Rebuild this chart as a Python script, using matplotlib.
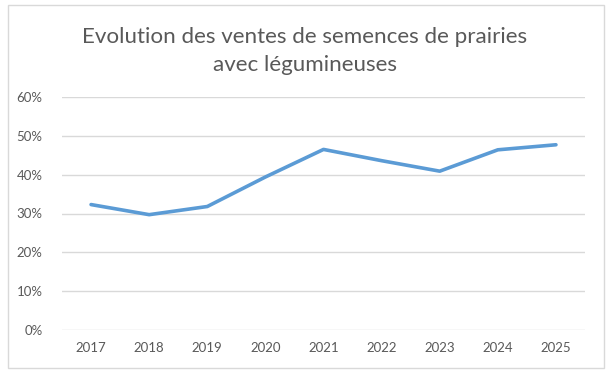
import matplotlib
matplotlib.use("Agg")
from matplotlib import pyplot as plt
from matplotlib.patches import Rectangle

years = ["2017", "2018", "2019", "2020", "2021", "2022", "2023", "2024", "2025"]
share = [32.3, 29.7, 31.8, 39.4, 46.5, 43.6, 40.9, 46.4, 47.7]
yticks = [0, 10, 20, 30, 40, 50, 60]

plt.rcParams['font.family'] = ['Lato', 'DejaVu Sans']
grey = '#595959'

fig = plt.figure(figsize=(6.1, 3.73), dpi=100)
ax = fig.add_axes([62 / 610, 1 - 330 / 373, 523 / 610, 233 / 373])

xs = range(len(years))
ax.plot(xs, share, color='#5b9bd5', linewidth=2.6, solid_capstyle='round', solid_joinstyle='round', zorder=3)

ax.set_xlim(-0.5, len(years) - 0.5)
ax.set_ylim(0, 60)
ax.set_yticks(yticks)
ax.set_yticklabels([f"{v}%" for v in yticks])
ax.set_xticks(list(xs))
ax.set_xticklabels(years)
ax.tick_params(length=0, colors=grey, labelsize=9.5)
ax.tick_params(axis='y', pad=14)
ax.tick_params(axis='x', pad=9)
ax.grid(axis='y', color='#d9d9d9', linewidth=1)
ax.set_axisbelow(True)
for s in ax.spines.values():
    s.set_visible(False)

fig.text(0.5, 1 - 51 / 373, "Evolution des ventes de semences de prairies\navec légumineuses",
         ha='center', va='center', fontsize=16.1, color=grey, linespacing=1.45)

# chart border
fig.patches.append(Rectangle((8 / 610, 1 - 368 / 373), 596 / 610, 363 / 373,
                             transform=fig.transFigure, fill=False, edgecolor='#d9d9d9', linewidth=1))

fig.savefig("out.png", dpi=100)
